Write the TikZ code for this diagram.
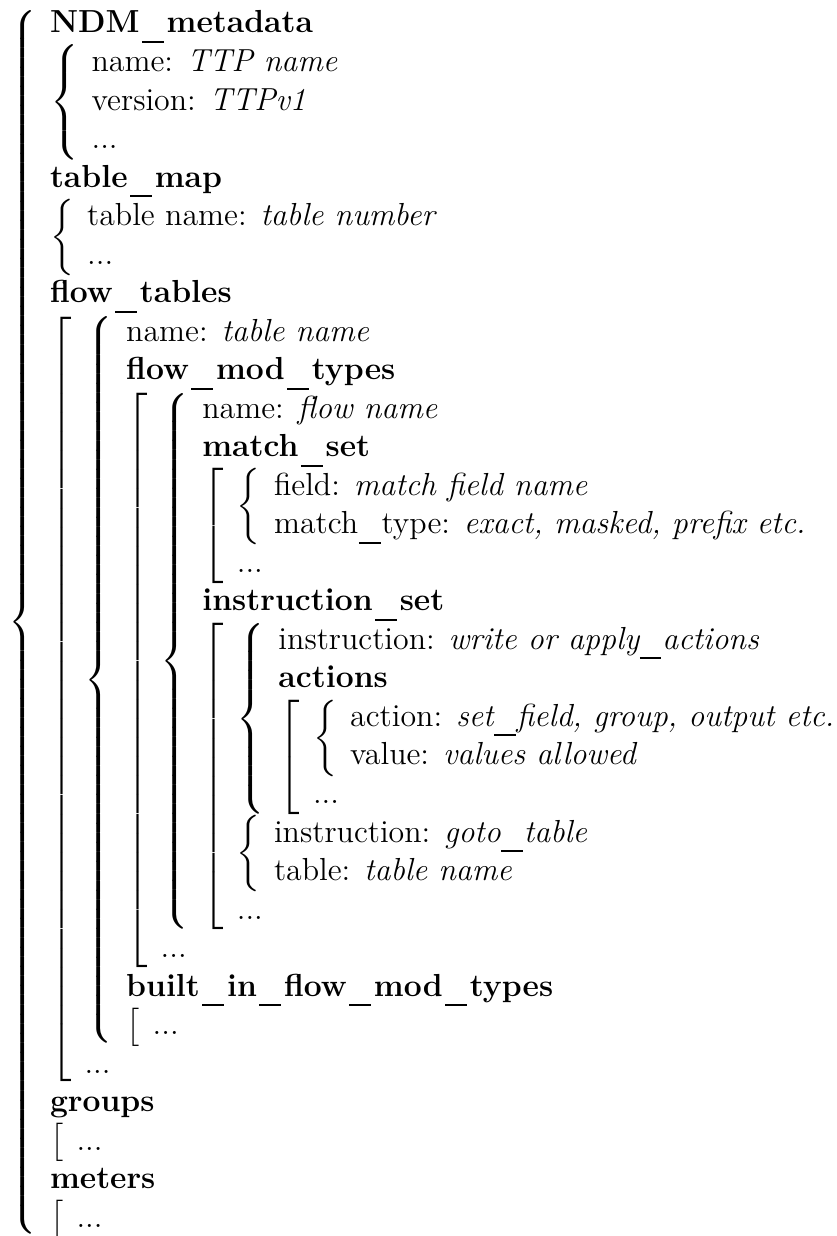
\documentclass[tikz,border=0pt,12pt]{standalone}
\usepackage{amsmath}
\tikzset{
  txt/.style={inner sep=0pt, outer sep=0pt, anchor=base west, font=\fontsize{12}{14.5}\selectfont},
  delim/.style={inner sep=0pt, outer sep=0pt, anchor=base west, font=\fontsize{12}{14.5}\selectfont},
}
% extensible delimiters covering a block of the given height, centred on the math axis
\newcommand\lbr[1]{$\nulldelimiterspace=0pt\left\{\vcenter{\hbox{\rule{0pt}{#1}}}\right.$}
\newcommand\lbk[1]{$\nulldelimiterspace=0pt\left[\vcenter{\hbox{\rule{0pt}{#1}}}\right.$}
\newcommand\key[1]{\textbf{#1}}
% underscore drawn as a short low rule with space on both sides
\newcommand\us{\leavevmode\setbox0\hbox{\_}\hbox to\wd0{\hskip0pt plus 1fil\rule[-0.31em]{0.68em}{0.06em}\hskip0pt plus 1.3fil}}
\begin{document}
\begin{tikzpicture}
\useasboundingbox (-18.82pt,12.42pt) rectangle (296.2pt,-452.8pt);
\coordinate (o) at (0,0);
% outer mapping
\node[delim, anchor=base east] (b0) at (-5pt,-224.85pt) {\lbr{464pt}};
\coordinate (c0) at (b0.east |- o);
\node[txt] (ndm) at ([xshift=5pt]c0) {\key{NDM\us metadata}};
\node[delim] (b1) at ([xshift=5pt,yshift=-29.1pt]c0) {\lbr{43.5pt}};
\coordinate (c1) at (b1.east |- o);
\node[txt] (m1) at ([xshift=5pt,yshift=-14.5pt]c1) {name: \textit{TTP name}};
\node[txt] (m2) at ([xshift=5pt,yshift=-29pt]c1) {version: \textit{TTPv1}};
\node[txt] (m3) at ([xshift=5pt,yshift=-43.5pt]c1) {...};
\node[txt] (tmap) at ([xshift=5pt,yshift=-58pt]c0) {\key{table\us map}};
\node[delim] (b2) at ([xshift=5pt,yshift=-79.85pt]c0) {\lbr{29pt}};
\coordinate (c2) at (b2.east |- o);
\node[txt] (t1) at ([xshift=5pt,yshift=-72.5pt]c2) {table name: \textit{table number}};
\node[txt] (t2) at ([xshift=5pt,yshift=-87pt]c2) {...};
% flow tables
\node[txt] (ftab) at ([xshift=5pt,yshift=-101.5pt]c0) {\key{flow\us tables}};
\node[delim] (k1) at ([xshift=5pt,yshift=-253.85pt]c0) {\lbk{290pt}};
\coordinate (c3) at (k1.east |- o);
\node[delim] (b3) at ([xshift=5pt,yshift=-246.6pt]c3) {\lbr{275.5pt}};
\coordinate (c4) at (b3.east |- o);
\node[txt] (f1) at ([xshift=5pt,yshift=-116pt]c4) {name: \textit{table name}};
\node[txt] (fmt) at ([xshift=5pt,yshift=-130.5pt]c4) {\key{flow\us mod\us types}};
\node[delim] (k2) at ([xshift=5pt,yshift=-246.6pt]c4) {\lbk{217.5pt}};
\coordinate (c5) at (k2.east |- o);
\node[delim] (b4) at ([xshift=5pt,yshift=-239.35pt]c5) {\lbr{203pt}};
\coordinate (c6) at (b4.east |- o);
\node[txt] (g1) at ([xshift=5pt,yshift=-145pt]c6) {name: \textit{flow name}};
\node[txt] (mset) at ([xshift=5pt,yshift=-159.5pt]c6) {\key{match\us set}};
\node[delim] (k3) at ([xshift=5pt,yshift=-188.6pt]c6) {\lbk{43.5pt}};
\coordinate (c7) at (k3.east |- o);
\node[delim] (b5) at ([xshift=5pt,yshift=-181.35pt]c7) {\lbr{29pt}};
\coordinate (c8) at (b5.east |- o);
\node[txt] (ms1) at ([xshift=5pt,yshift=-174pt]c8) {field: \textit{match field name}};
\node[txt] (ms2) at ([xshift=5pt,yshift=-188.5pt]c8) {match\us type: \textit{exact, masked, prefix etc.}};
\node[txt] (ms3) at ([xshift=5pt,yshift=-203pt]c7) {...};
\node[txt] (iset) at ([xshift=5pt,yshift=-217.5pt]c6) {\key{instruction\us set}};
\node[delim] (k4) at ([xshift=5pt,yshift=-282.85pt]c6) {\lbk{116pt}};
\coordinate (c9) at (k4.east |- o);
\node[delim] (b6) at ([xshift=5pt,yshift=-261.1pt]c9) {\lbr{72.5pt}};
\coordinate (c10) at (b6.east |- o);
\node[txt] (i1) at ([xshift=5pt,yshift=-232pt]c10) {instruction: \textit{write or apply\us actions}};
\node[txt] (act) at ([xshift=5pt,yshift=-246.5pt]c10) {\key{actions}};
\node[delim] (k5) at ([xshift=5pt,yshift=-275.6pt]c10) {\lbk{43.5pt}};
\coordinate (c11) at (k5.east |- o);
\node[delim] (b7) at ([xshift=5pt,yshift=-268.35pt]c11) {\lbr{29pt}};
\coordinate (c12) at (b7.east |- o);
\node[txt] (a1) at ([xshift=5pt,yshift=-261pt]c12) {action: \textit{set\us field, group, output etc.}};
\node[txt] (a2) at ([xshift=5pt,yshift=-275.5pt]c12) {value: \textit{values allowed}};
\node[txt] (a3) at ([xshift=5pt,yshift=-290pt]c11) {...};
\node[delim] (b8) at ([xshift=5pt,yshift=-311.85pt]c9) {\lbr{29pt}};
\coordinate (c13) at (b8.east |- o);
\node[txt] (i2) at ([xshift=5pt,yshift=-304.5pt]c13) {instruction: \textit{goto\us table}};
\node[txt] (i3) at ([xshift=5pt,yshift=-319pt]c13) {table: \textit{table name}};
\node[txt] (i4) at ([xshift=5pt,yshift=-333.5pt]c9) {...};
\node[txt] (g2) at ([xshift=5pt,yshift=-348pt]c5) {...};
\node[txt] (bif) at ([xshift=5pt,yshift=-362.5pt]c4) {\key{built\us in\us flow\us mod\us types}};
\node[delim] (k6) at ([xshift=5pt,yshift=-377.1pt]c4) {\lbk{14.5pt}};
\coordinate (c14) at (k6.east |- o);
\node[txt] (bi1) at ([xshift=5pt,yshift=-377pt]c14) {...};
\node[txt] (f2) at ([xshift=5pt,yshift=-391.5pt]c3) {...};
% groups and meters
\node[txt] (grp) at ([xshift=5pt,yshift=-406pt]c0) {\key{groups}};
\node[delim] (k7) at ([xshift=5pt,yshift=-420.6pt]c0) {\lbk{14.5pt}};
\coordinate (c15) at (k7.east |- o);
\node[txt] (gr1) at ([xshift=5pt,yshift=-420.5pt]c15) {...};
\node[txt] (met) at ([xshift=5pt,yshift=-435pt]c0) {\key{meters}};
\node[delim] (k8) at ([xshift=5pt,yshift=-449.6pt]c0) {\lbk{14.5pt}};
\coordinate (c16) at (k8.east |- o);
\node[txt] (me1) at ([xshift=5pt,yshift=-449.5pt]c16) {...};
\end{tikzpicture}
\end{document}
